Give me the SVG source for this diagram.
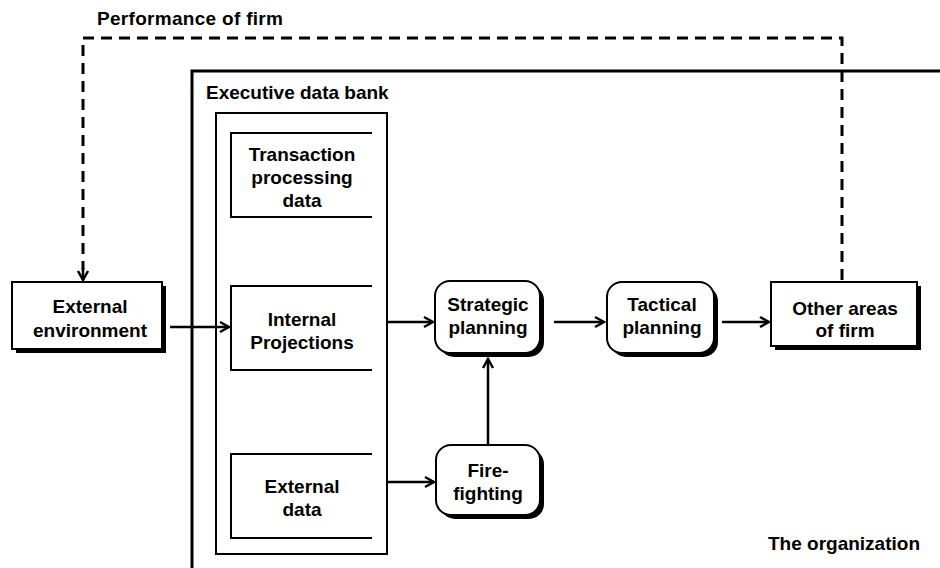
<svg xmlns="http://www.w3.org/2000/svg" width="940" height="568" viewBox="0 0 940 568">
  <style>
    .t { font-family: "Liberation Sans", Arial, sans-serif; font-weight: bold; font-size: 19px; fill: #000; }
    .c { text-anchor: middle; }
    .box { fill: #fff; stroke: #000; stroke-width: 2; }
    .sh { fill: #000; }
    .open { fill: none; stroke: #000; stroke-width: 2; }
    .ln { fill: none; stroke: #000; stroke-width: 2.5; }
    .dash { fill: none; stroke: #000; stroke-width: 3; stroke-dasharray: 11 7; }
  </style>
  <defs>
    <marker id="arr" viewBox="-11 -7 13 14" refX="0" refY="0" markerWidth="13" markerHeight="14" markerUnits="userSpaceOnUse" orient="auto">
      <path d="M-9,-5 L0,0 L-9,5" fill="none" stroke="#000" stroke-width="2.5"/>
    </marker>
  </defs>
  <rect width="940" height="568" fill="#fff"/>

  <g id="organization">
    <path d="M192,575 V71 H945" fill="none" stroke="#000" stroke-width="3"/>
    <text class="t" x="768" y="550">The organization</text>
  </g>

  <g id="performance-label">
    <text class="t" x="97" y="25" style="letter-spacing:0.3px">Performance of firm</text>
  </g>

  <g id="executive-data-bank">
    <text class="t" x="206" y="99">Executive data bank</text>
    <rect class="box" x="216" y="113" width="171" height="441"/>
  </g>

  <g id="transaction-data">
    <path class="open" d="M372,133 H231 V217 H372"/>
    <text class="t c" x="302" y="161">Transaction</text>
    <text class="t c" x="302" y="184">processing</text>
    <text class="t c" x="302" y="207">data</text>
  </g>

  <g id="internal-projections">
    <path class="open" d="M372,286 H231 V370 H372"/>
    <text class="t c" x="302" y="326">Internal</text>
    <text class="t c" x="302" y="349">Projections</text>
  </g>

  <g id="external-data">
    <path class="open" d="M372,454 H231 V538 H372"/>
    <text class="t c" x="302" y="493">External</text>
    <text class="t c" x="302" y="516">data</text>
  </g>

  <g id="external-environment">
    <rect class="sh" x="16" y="286" width="150" height="67"/>
    <rect class="box" x="12" y="282" width="150" height="67"/>
    <text class="t c" x="90" y="313">External</text>
    <text class="t c" x="90" y="337">environment</text>
  </g>

  <g id="strategic-planning">
    <rect class="sh" x="439" y="285" width="105" height="72" rx="15"/>
    <rect class="box" x="435" y="281" width="105" height="72" rx="15"/>
    <text class="t c" x="488" y="311">Strategic</text>
    <text class="t c" x="488" y="334">planning</text>
  </g>

  <g id="tactical-planning">
    <rect class="sh" x="611" y="286" width="107" height="71" rx="15"/>
    <rect class="box" x="607" y="282" width="107" height="71" rx="15"/>
    <text class="t c" x="662" y="311">Tactical</text>
    <text class="t c" x="662" y="334">planning</text>
  </g>

  <g id="other-areas">
    <rect class="sh" x="775" y="286" width="146" height="64"/>
    <rect class="box" x="771" y="282" width="146" height="64"/>
    <text class="t c" x="845" y="315">Other areas</text>
    <text class="t c" x="845" y="337">of firm</text>
  </g>

  <g id="fire-fighting">
    <rect class="sh" x="440" y="449" width="104" height="70" rx="15"/>
    <rect class="box" x="436" y="445" width="104" height="70" rx="15"/>
    <text class="t c" x="488" y="477">Fire-</text>
    <text class="t c" x="488" y="500">fighting</text>
  </g>

  <g id="connectors">
    <path class="dash" d="M842,280 V38 H83 V270"/>
    <path class="ln" d="M83,268 V280" marker-end="url(#arr)"/>
    <path class="ln" d="M170,327 H229" marker-end="url(#arr)"/>
    <path class="ln" d="M388,322 H433" marker-end="url(#arr)"/>
    <path class="ln" d="M554,322 H604" marker-end="url(#arr)"/>
    <path class="ln" d="M722,322 H769" marker-end="url(#arr)"/>
    <path class="ln" d="M388,482 H434" marker-end="url(#arr)"/>
    <path class="ln" d="M488,445 V359" marker-end="url(#arr)"/>
  </g>
</svg>
